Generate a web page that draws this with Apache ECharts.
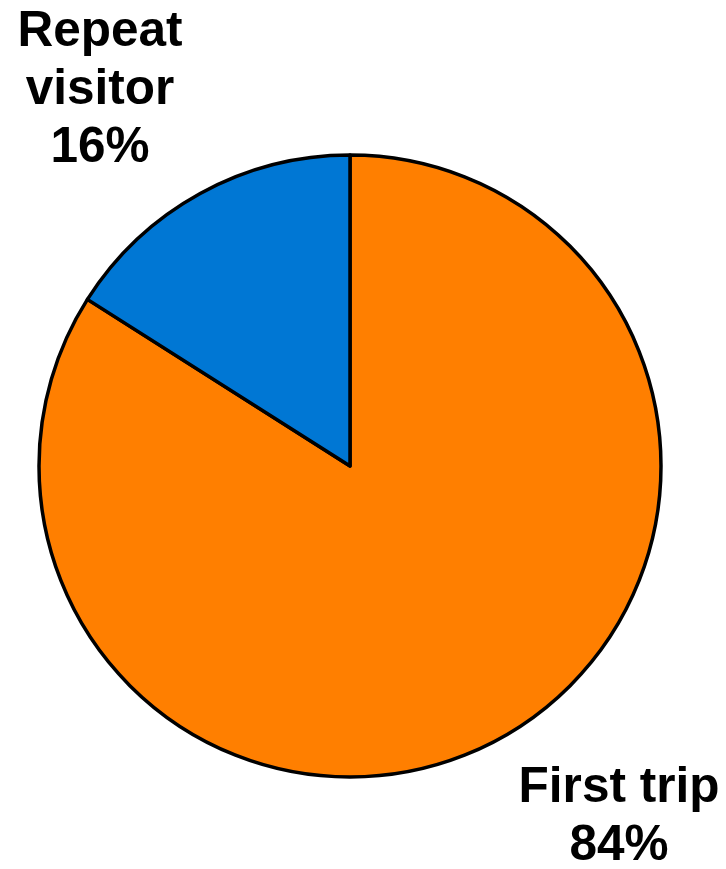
<!DOCTYPE html>
<html>
<head>
<meta charset="utf-8">
<script src="https://cdn.jsdelivr.net/npm/echarts@6/dist/echarts.min.js"></script>
<style>html,body{margin:0;padding:0;background:#fff;}#c{width:726px;height:869px;}</style>
</head>
<body>
<div id="c"></div>
<script>
const categories = ['First trip', 'Repeat visitor'];
const displayNames = ['First trip', 'Repeat\nvisitor'];
const values = [84, 16];
const colors = ['#FF7F00', '#0077D4'];

const labelPos = [[619, 817], [100, 90]];

const chart = echarts.init(document.getElementById('c'), null, {renderer: 'canvas'});
chart.setOption({
  animation: false,
  series: [{
    type: 'pie',
    center: [350, 466],
    radius: 311,
    startAngle: 90,
    clockwise: true,
    data: categories.map((n, i) => ({name: n, value: values[i], itemStyle: {color: colors[i]}})),
    itemStyle: {borderColor: '#000', borderWidth: 3.5},
    label: {
      show: true,
      position: 'outside',
      formatter: p => displayNames[p.dataIndex] + '\n' + Math.round(p.percent) + '%',
      fontFamily: 'Liberation Sans, Arial, sans-serif',
      fontWeight: 'bold',
      fontSize: 49.5,
      lineHeight: 58,
      color: '#000',
      align: 'center',
      overflow: 'none',
      width: 300
    },
    labelLine: {show: false},
    labelLayout: p => ({x: labelPos[p.dataIndex][0], y: labelPos[p.dataIndex][1], align: 'center', verticalAlign: 'middle', width: 300}),
    emphasis: {disabled: true}
  }]
});
</script>
</body>
</html>
